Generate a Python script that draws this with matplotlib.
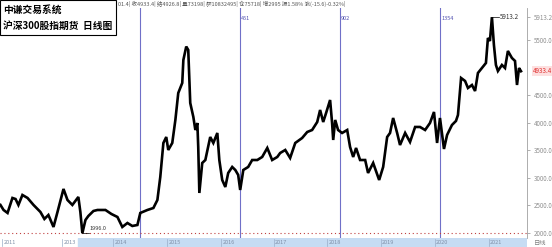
import matplotlib
matplotlib.use("Agg")
import matplotlib.pyplot as plt

plt.rcParams['font.family'] = ['Noto Sans CJK SC', 'DejaVu Sans']

# trading-day index and close prices
day = [0, 14, 32, 54, 68, 81, 99, 122, 149, 180, 198, 216, 239, 257, 284, 302, 324, 351,
       360, 369, 383, 396, 419, 437, 473, 500, 527, 549, 572, 594, 617, 630, 662, 689,
       707, 720, 734, 747, 756, 774, 788, 801, 819, 824, 837, 846, 855, 869, 878, 887,
       891, 896, 909, 923, 945, 959, 977, 986, 999, 1013, 1026, 1044, 1058, 1071, 1080,
       1094, 1116, 1134, 1157, 1179, 1202, 1224, 1247, 1260, 1283, 1305, 1328, 1359,
       1382, 1404, 1427, 1440, 1454, 1467, 1485, 1494, 1499, 1508, 1521, 1539, 1562,
       1575, 1589, 1602, 1620, 1643, 1656, 1679, 1706, 1724, 1742, 1755, 1769, 1787,
       1800, 1823, 1845, 1868, 1890, 1913, 1935, 1953, 1967, 1980, 1998, 2012, 2034,
       2052, 2061, 2075, 2093, 2106, 2124, 2138, 2151, 2169, 2187, 2196, 2205, 2214,
       2223, 2232, 2241, 2259, 2273, 2286, 2304, 2318, 2327, 2336, 2345]
close = [2508, 2417, 2363, 2635, 2616, 2508, 2689, 2635, 2508, 2381, 2254, 2326, 2109,
         2381, 2798, 2598, 2508, 2653, 2381, 1996, 2236, 2308, 2399, 2417, 2417, 2344,
         2290, 2109, 2181, 2127, 2145, 2363, 2417, 2453, 2598, 3015, 3632, 3740, 3505,
         3632, 4049, 4538, 4720, 5136, 5380, 5318, 4357, 4103, 3867, 3994, 3559, 2725,
         3269, 3323, 3740, 3632, 3813, 3323, 2961, 2834, 3088, 3197, 3142, 3052, 2780,
         3142, 3197, 3323, 3323, 3378, 3541, 3323, 3378, 3450, 3505, 3360, 3632, 3722,
         3831, 3867, 4012, 4230, 4012, 4176, 4411, 3994, 3686, 4049, 3867, 3813, 3867,
         3559, 3378, 3541, 3323, 3323, 3088, 3269, 2961, 3197, 3740, 3813, 4085, 3813,
         3595, 3813, 3650, 3922, 3922, 3867, 3994, 4194, 3632, 4085, 3523, 3777, 3958,
         4031, 4139, 4810, 4756, 4629, 4683, 4574, 4901, 4991, 5082, 5535, 5481, 5913,
         5408, 5046, 4937, 5046, 4991, 5300, 5173, 5119, 4683, 4991, 4933]

year_labels = ["2011", "2013", "2014", "2015", "2016", "2017", "2018", "2019", "2020", "2021"]
year_days = [0, 270, 500, 743, 986, 1224, 1463, 1706, 1949, 2192]

mark_days = [627, 1078, 1529, 1980]
mark_labels = ["", "451", "902", "1354"]

yticks = [2000, 2500, 3000, 3500, 4000, 4500, 5500]
low_price, high_price, last_price = 1996.0, 5913.2, 4933.4

W, H = 552, 247
fig = plt.figure(figsize=(W / 100, H / 100), dpi=100, facecolor="white")
ax = fig.add_axes([0, 9 / H, 527 / W, 230 / H])
ax.set_facecolor("white")
ax.set_xlim(-2, 2372)
ax.set_ylim(1909, 6079)

for d, lab in zip(mark_days, mark_labels):
    ax.axvline(d, color="#7070c8", lw=0.8, zorder=1)
    if lab:
        ax.text(d + 6, 5890, lab, fontsize=4, color="#5050b0", va="center", ha="left")

ax.axhline(low_price, color="#c04040", lw=0.8, ls=(0, (1, 2.5)), zorder=1)
ax.plot(day, close, color="black", lw=1.9, zorder=3, solid_joinstyle="miter")

# extreme value annotations
i_lo = close.index(1996)
ax.plot([day[i_lo], day[i_lo] + 30], [low_price, low_price], color="black", lw=0.5)
ax.text(day[i_lo] + 34, low_price + 40, "1996.0", fontsize=4, color="#333333", va="bottom")
i_hi = close.index(5913)
ax.plot([day[i_hi], day[i_hi] + 30], [high_price, high_price], color="black", lw=0.5)
ax.text(day[i_hi] + 34, high_price, "5913.2", fontsize=4.5, color="#333333", va="center")

ax.set_xticks([])
ax.yaxis.tick_right()
ax.set_yticks(yticks + [high_price])
ax.set_yticklabels([f"{v:.1f}" for v in yticks] + [f"{high_price:.1f}"])
ax.tick_params(axis="y", labelsize=4.5, labelcolor="#909090", length=2, width=0.5,
               color="#909090", pad=3)
for s in ["top", "bottom", "left"]:
    ax.spines[s].set_visible(False)
ax.spines["right"].set_color("#a0a0a0")
ax.spines["right"].set_linewidth(0.6)
ax.text(1.012, last_price, f"{last_price:.1f}", transform=ax.get_yaxis_transform(),
        fontsize=4.5, color="#e03030", va="center", ha="left",
        bbox=dict(boxstyle="square,pad=0.15", fc="#fde0e0", ec="none"))

# bottom year strip
bx = fig.add_axes([0, 0, 527 / W, 9 / H])
bx.set_xlim(-2, 2372)
bx.set_ylim(0, 1)
bx.axis("off")
bx.axvspan(350, 2372, color="#c6dcf3", zorder=0)
for d, lab in zip(year_days, year_labels):
    bx.plot([d + 8, d + 8], [0.1, 0.9], color="#9aaec8", lw=0.5)
    bx.text(d + 14, 0.5, lab, fontsize=4, color="#8090a8", va="center", ha="left")
fig.text(540 / W, 4.5 / H, "日线", fontsize=4.5, color="#808080", ha="center", va="center")

# title box
fig.text(3 / W, 1 - 10 / H, "中谦交易系统", fontsize=7, fontweight="bold", va="center")
fig.text(3 / W, 1 - 26 / H, "沪深300股指期货  日线图", fontsize=7, fontweight="bold", va="center")
fig.patches.append(plt.Rectangle((0, 1 - 35 / H), 116 / W, 35 / H, transform=fig.transFigure,
                                 fill=False, ec="black", lw=0.8))

fig.text(118 / W, 1 - 4 / H,
         "01.4| 收4933.4| 结4926.8| 量73198| 额10832495| 仓75718| 增2995 振1.58% 涨(-15.6)-0.32%|",
         fontsize=4, color="#555555", va="center", ha="left")

fig.savefig("out.png", dpi=100, facecolor="white")
